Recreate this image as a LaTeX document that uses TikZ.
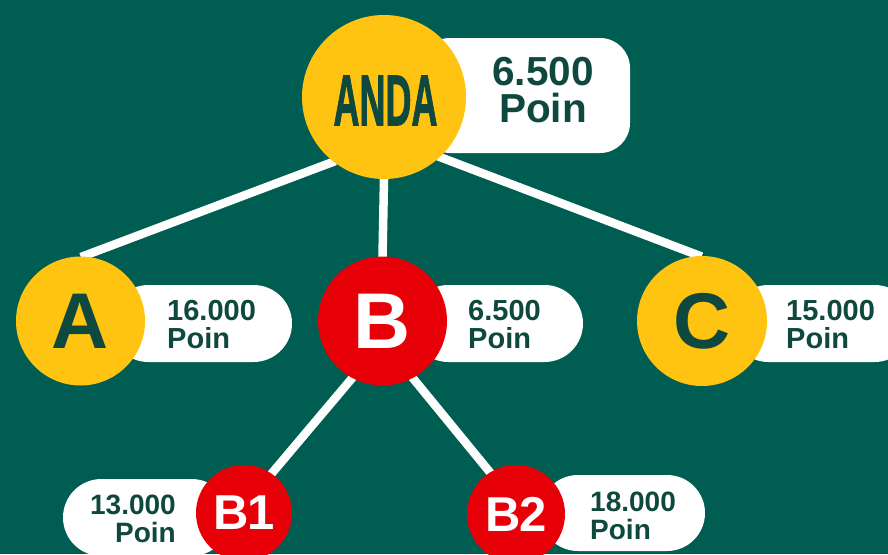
\documentclass[tikz,border=0pt]{standalone}
\usepackage{fontspec}
\setmainfont{Liberation Sans}
\newfontfamily\andafont[FakeBold=1.6]{Liberation Sans Bold}
\definecolor{bg}{RGB}{0,93,81}
\definecolor{ink}{RGB}{14,72,62}
\definecolor{gold}{RGB}{255,195,18}
\definecolor{redc}{RGB}{232,0,8}
\pgfdeclarelayer{bglayer}
\pgfdeclarelayer{linelayer}
\pgfsetlayers{bglayer,linelayer,main}
\begin{document}
\begin{tikzpicture}[x=1pt,y=-1pt,
  conn/.style={draw=white,line width=8.5pt,shorten <=-2pt,shorten >=-2pt},
  pill/.style={fill=white,rectangle,rounded corners=#1,inner sep=0pt},
  ball/.style={circle,inner sep=0pt,font=\bfseries},
  lbl/.style={inner sep=0pt,text=ink,font=\bfseries\fontsize{29}{28}\selectfont}]
\begin{pgfonlayer}{bglayer}
\fill[bg] (0,0) rectangle (888,554);
\end{pgfonlayer}
\useasboundingbox (0,0) rectangle (888,554);
% pills
\node[pill=30pt,minimum width=210pt,minimum height=115pt] (panda) at (525,95.5) {};
\node[pill=38.5pt,minimum width=182pt,minimum height=77pt] (pa) at (201,323.5) {};
\node[pill=38.5pt,minimum width=173pt,minimum height=77pt] (pb) at (496.5,323.5) {};
\node[pill=38.5pt,minimum width=183pt,minimum height=77pt] (pc) at (821.5,323.5) {};
\node[pill=38.5pt,minimum width=167pt,minimum height=77pt] (pb1) at (146.5,517.5) {};
\node[pill=38pt,minimum width=165pt,minimum height=76pt] (pb2) at (622.5,513) {};
% circles
\node[ball,fill=gold,minimum size=164pt] (anda) at (384,97) {};
\node[inner sep=0pt,text=ink] (andatxt) at (385.5,100.5)
  {\andafont\fontsize{72}{72}\selectfont\scalebox{0.5}[1]{ANDA}};
\node[ball,fill=gold,minimum size=129pt,text=ink] (a) at (80.5,321)
  {\fontsize{79}{79}\selectfont A};
\node[ball,fill=redc,minimum size=129pt,text=white] (b) at (382.5,321)
  {\fontsize{79}{79}\selectfont B};
\node[ball,fill=gold,minimum size=130pt,text=ink] (c) at (702,321)
  {\fontsize{79}{79}\selectfont C};
\node[ball,fill=redc,minimum size=96pt,text=white] (b1) at (244,513)
  {\fontsize{49}{49}\selectfont B\kern-2pt 1};
\node[ball,fill=redc,minimum size=98pt,text=white] (b2) at (516,514)
  {\fontsize{49}{49}\selectfont B\kern-2pt 2};
% connectors
\begin{pgfonlayer}{linelayer}
\draw[conn] (anda.232) -- (a.88);
\draw[conn] (anda.270) -- (b.90);
\draw[conn] (anda.313) -- (c.92);
\draw[conn] (b.242) -- (b1.55);
\draw[conn] (b.298) -- (b2.122);
\end{pgfonlayer}
% labels
\node[lbl,font=\bfseries\fontsize{40.5}{37}\selectfont,anchor=north,align=center] (tanda) at (543,57) {6.500\\Poin};
\node[lbl,anchor=north west,align=left] (ta) at (167,300) {16.000\\Poin};
\node[lbl,anchor=north west,align=left] (tb) at (468,300) {6.500\\Poin};
\node[lbl,anchor=north west,align=left] (tc) at (786,300) {15.000\\Poin};
\node[lbl,font=\bfseries\fontsize{28}{28}\selectfont,anchor=north east,align=right] (tb1) at (176,495) {13.000\\Poin};
\node[lbl,font=\bfseries\fontsize{28}{28}\selectfont,anchor=north west,align=left] (tb2) at (590,492) {18.000\\Poin};
\end{tikzpicture}
\end{document}
